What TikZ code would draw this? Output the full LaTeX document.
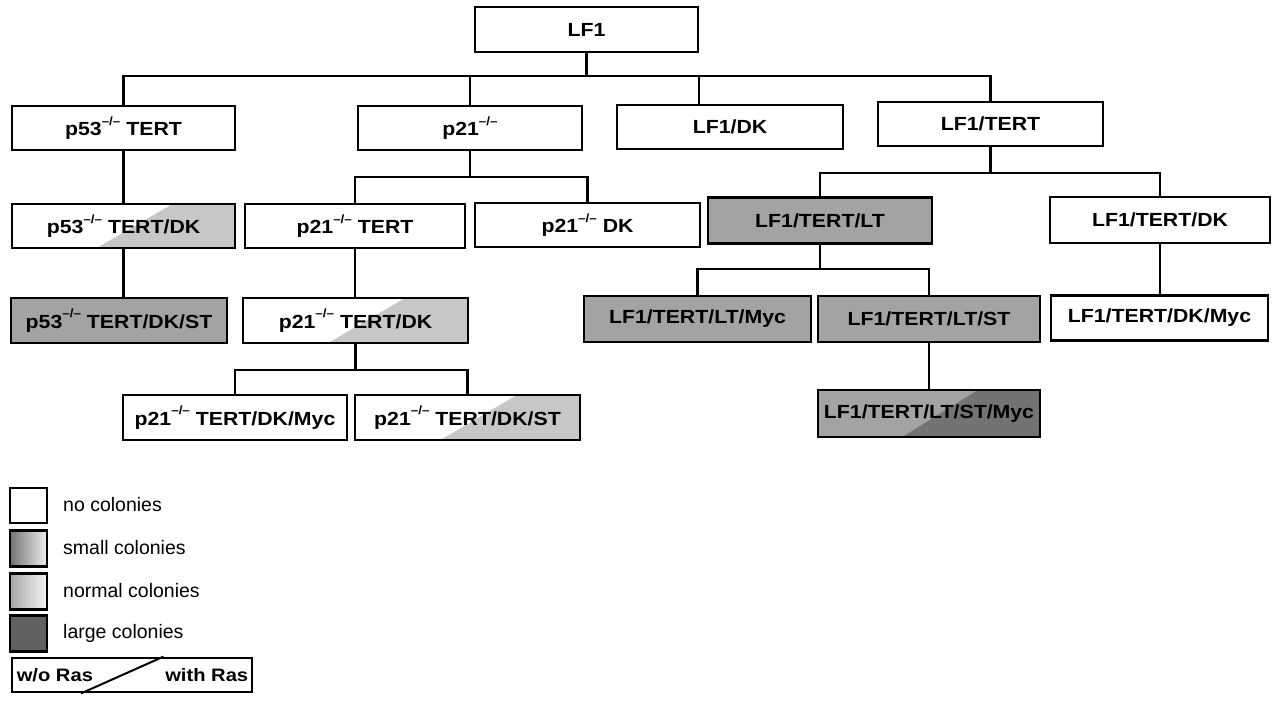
\documentclass[tikz,border=0pt]{standalone}
\usepackage{fontspec}
\setmainfont{Liberation Sans}
\newfontfamily\boxfont{Liberation Sans}[FakeStretch=1.12]
\usetikzlibrary{calc}
\newcommand{\kosup}{\raisebox{0.55em}{\fontsize{12}{12}\selectfont –/–}}
\definecolor{cgray}{gray}{0.64}
\definecolor{clight}{gray}{0.78}
\definecolor{cdark}{gray}{0.45}
\tikzset{
  gbox/.style={draw, line width=2.8pt, rectangle, inner sep=0pt, fill=white,
    font=\boxfont\bfseries\fontsize{19}{22}\selectfont},
  conn/.style={line width=2.8pt, line join=miter, line cap=rect},
  ras/.style 2 args={fill=#1, path picture={
    \fill[#2] ($(path picture bounding box.south west)!0.38!(path picture bounding box.south east)$)
      -- ($(path picture bounding box.north west)!0.72!(path picture bounding box.north east)$)
      -- (path picture bounding box.north east) -- (path picture bounding box.south east) -- cycle;}},
  lbox/.style={draw, line width=2.8pt, rectangle, inner sep=0pt, fill=white},
  ltext/.style={anchor=west, inner sep=0pt, font=\fontsize{19.5}{22}\selectfont},
  rtext/.style={inner sep=0pt, font=\boxfont\bfseries\fontsize{18}{22}\selectfont}
}
\begin{document}
\begin{tikzpicture}[x=1pt, y=-1pt]
\fill[white] (0,0) rectangle (1275,703);
\useasboundingbox (0,0) rectangle (1275,703);

% row 0
\node[gbox, minimum width=223pt, minimum height=45pt] (lf1) at (586.5,29.5) {LF1};
% row 1
\node[gbox, minimum width=223pt, minimum height=44pt] (p53tert) at (123.5,128) {p53\kosup\ TERT};
\node[gbox, minimum width=224pt, minimum height=44pt] (p21) at (470,128) {p21\kosup};
\node[gbox, minimum width=226pt, minimum height=44pt] (lf1dk) at (730,127) {LF1/DK};
\node[gbox, minimum width=225pt, minimum height=44pt] (lf1tert) at (990.5,124) {LF1/TERT};
% row 2
\node[gbox, ras={white}{clight}, minimum width=223pt, minimum height=44pt] (p53tertdk) at (123.5,226) {p53\kosup\ TERT/DK};
\node[gbox, minimum width=220pt, minimum height=44pt] (p21tert) at (355,226) {p21\kosup\ TERT};
\node[gbox, minimum width=225pt, minimum height=44pt] (p21dk) at (587.5,225) {p21\kosup\ DK};
\node[gbox, fill=cgray, minimum width=224pt, minimum height=46pt] (lf1tertlt) at (820,220.5) {LF1/TERT/LT};
\node[gbox, minimum width=220pt, minimum height=46pt] (lf1tertdk) at (1160,220) {LF1/TERT/DK};
% row 3
\node[gbox, fill=cgray, minimum width=216pt, minimum height=45pt] (p53tertdkst) at (119,320.5) {p53\kosup\ TERT/DK/ST};
\node[gbox, ras={white}{clight}, minimum width=225pt, minimum height=45pt] (p21tertdk) at (355.5,320.5) {p21\kosup\ TERT/DK};
\node[gbox, fill=cgray, minimum width=227pt, minimum height=46pt] (lf1tertltmyc) at (697.5,319) {LF1/TERT/LT/Myc};
\node[gbox, fill=cgray, minimum width=222pt, minimum height=46pt] (lf1tertltst) at (929,319) {LF1/TERT/LT/ST};
\node[gbox, minimum width=217pt, minimum height=45pt] (lf1tertdkmyc) at (1159.5,318) {LF1/TERT/DK/Myc};
% row 4
\node[gbox, minimum width=224pt, minimum height=45pt] (p21tertdkmyc) at (235,417.5) {p21\kosup\ TERT/DK/Myc};
\node[gbox, ras={white}{clight}, minimum width=225pt, minimum height=45pt] (p21tertdkst) at (467.5,417.5) {p21\kosup\ TERT/DK/ST};
\node[gbox, ras={cgray}{cdark}, minimum width=222pt, minimum height=47pt] (lf1tertltstmyc) at (929,413.5) {LF1/TERT/LT/ST/Myc};

% buses
\coordinate (bus0) at (586.5,76);
\coordinate (busp21) at (470,177);
\coordinate (bustert) at (990.5,173);
\coordinate (buslt) at (820,269);
\coordinate (busdk) at (355.5,370);

\draw[conn] (lf1.south) -- (bus0);
\draw[conn] (p53tert.north) |- (bus0) -| (lf1tert.north);
\draw[conn] (p21.north) -- (p21.north |- bus0);
\draw[conn] ([xshift=-31pt]lf1dk.north) -- ([xshift=-31pt]lf1dk.north |- bus0);

\draw[conn] (p21.south) -- (busp21);
\draw[conn] (p21tert.north) |- (busp21) -| (p21dk.north);

\draw[conn] (lf1tert.south) -- (bustert);
\draw[conn] (lf1tertlt.north) |- (bustert) -| (lf1tertdk.north);

\draw[conn] (p53tert.south) -- (p53tertdk.north);
\draw[conn] (p53tertdk.south) -- (p53tertdk.south |- p53tertdkst.north);
\draw[conn] (p21tert.south) -- (p21tert.south |- p21tertdk.north);

\draw[conn] (p21tertdk.south) -- (busdk);
\draw[conn] (p21tertdkmyc.north) |- (busdk) -| (p21tertdkst.north);

\draw[conn] (lf1tertlt.south) -- (buslt);
\draw[conn] (lf1tertltmyc.north) |- (buslt) -| (lf1tertltst.north);

\draw[conn] (lf1tertdk.south) -- (lf1tertdk.south |- lf1tertdkmyc.north);
\draw[conn] (lf1tertltst.south) -- (lf1tertltst.south |- lf1tertltstmyc.north);

% legend
\node[lbox, minimum width=37pt, minimum height=35pt] (lnone) at (28.5,505.5) {};
\node[lbox, left color=black!55, right color=black!6, minimum width=37pt, minimum height=36pt] (lsmall) at (28.5,548.5) {};
\node[lbox, left color=black!35, right color=black!4, minimum width=37pt, minimum height=36pt] (lnormal) at (28.5,591.5) {};
\node[lbox, fill=black!62, minimum width=37pt, minimum height=36pt] (llarge) at (28.5,633.5) {};
\node[ltext] (tnone) at (63,505) {no colonies};
\node[ltext] (tsmall) at (63,548) {small colonies};
\node[ltext] (tnormal) at (63,591) {normal colonies};
\node[ltext] (tlarge) at (63,633) {large colonies};

\node[lbox, minimum width=240pt, minimum height=34pt] (rasbox) at (132,675) {};
\draw[line width=2pt] ($(rasbox.south west)!0.29!(rasbox.south east)$) -- ($(rasbox.north west)!0.63!(rasbox.north east)$);
\node[rtext, anchor=west] (wo) at ($(rasbox.west)+(6,0)$) {w/o Ras};
\node[rtext, anchor=east] (with) at ($(rasbox.east)+(-5,0)$) {with Ras};
\end{tikzpicture}
\end{document}
